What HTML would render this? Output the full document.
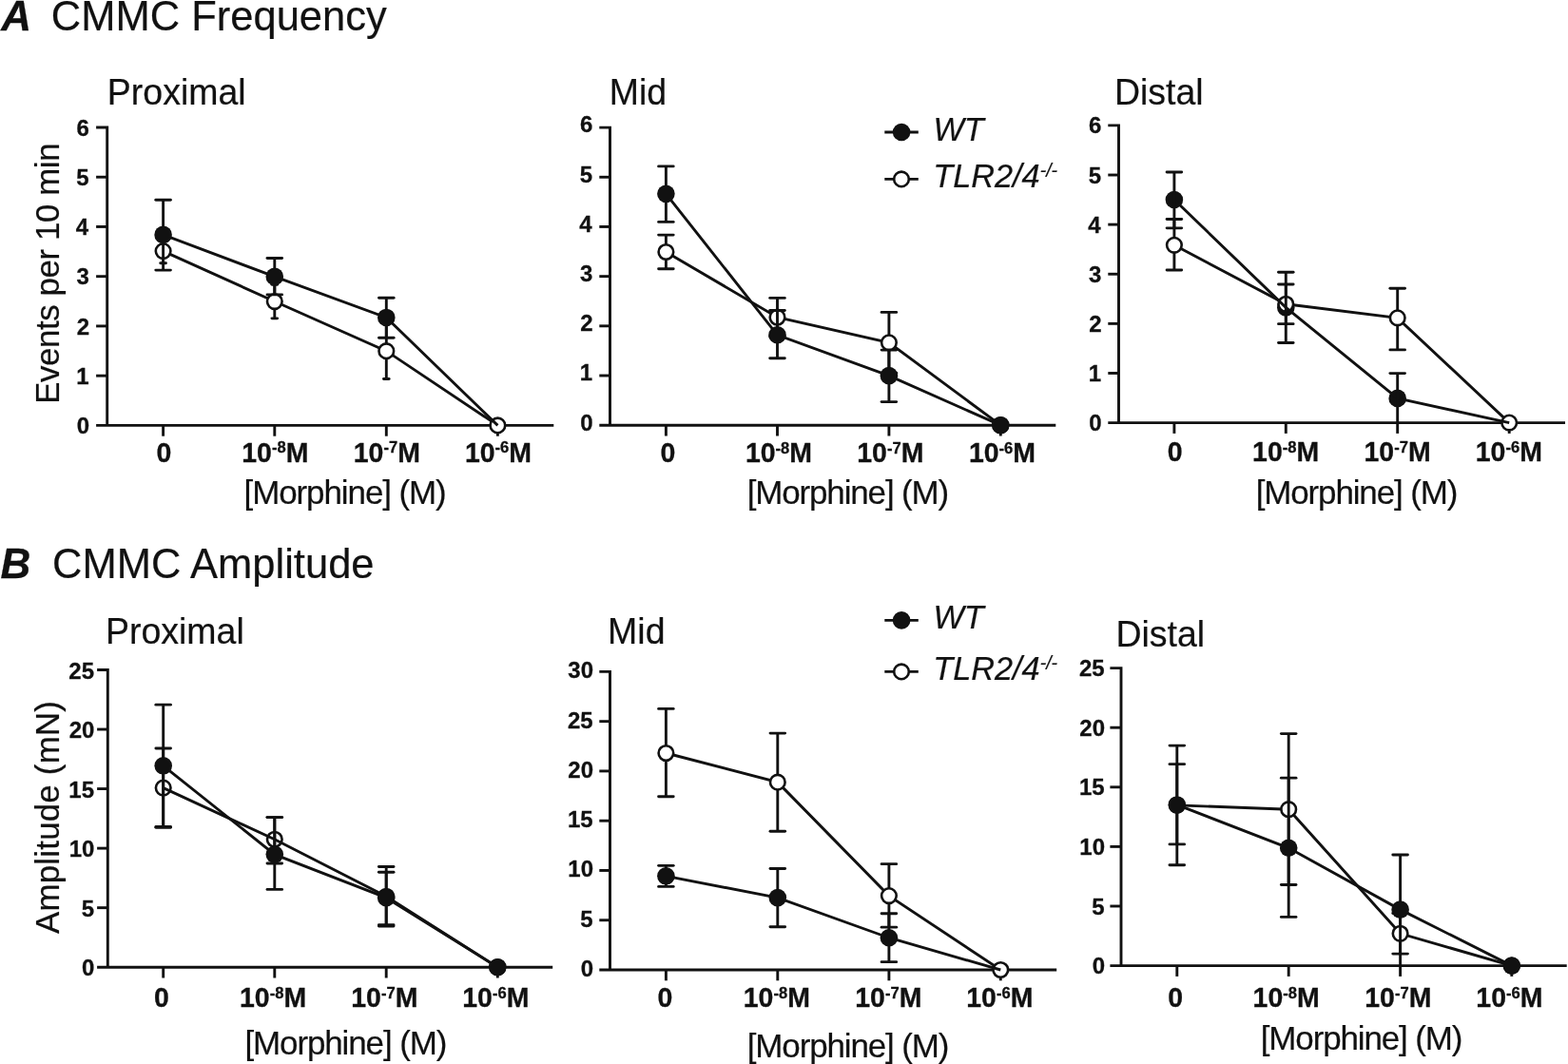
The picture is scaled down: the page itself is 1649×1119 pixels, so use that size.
<!DOCTYPE html>
<html><head><meta charset="utf-8"><style>
html,body{margin:0;padding:0;background:#fff;}
svg{display:block;}
</style></head><body>
<svg width="1649" height="1119" viewBox="0 0 1649 1119">
<style>text{stroke:#111111;stroke-width:0.2px;} text[font-weight="bold"]{stroke-width:0.3px;}</style>
<rect width="1649" height="1119" fill="#fff"/>
<g fill="#111111">
<!-- panel 0 -->
<path d="M101.10,134.00 H112.70 V447.40" fill="none" stroke="#111111" stroke-width="2.9" stroke-linecap="butt" stroke-linejoin="miter"/>
<path d="M101.10,447.40 H582.30" fill="none" stroke="#111111" stroke-width="2.9"/>
<text x="93.99" y="455.98" font-family="'Liberation Sans', Arial, Helvetica, sans-serif" font-weight="bold" font-style="normal" font-size="24.0" text-anchor="end">0</text>
<line x1="101.10" y1="395.17" x2="112.70" y2="395.17" stroke="#111111" stroke-width="2.9" stroke-linecap="butt"/>
<text x="93.63" y="403.75" font-family="'Liberation Sans', Arial, Helvetica, sans-serif" font-weight="bold" font-style="normal" font-size="24.0" text-anchor="end">1</text>
<line x1="101.10" y1="342.93" x2="112.70" y2="342.93" stroke="#111111" stroke-width="2.9" stroke-linecap="butt"/>
<text x="93.99" y="351.51" font-family="'Liberation Sans', Arial, Helvetica, sans-serif" font-weight="bold" font-style="normal" font-size="24.0" text-anchor="end">2</text>
<line x1="101.10" y1="290.70" x2="112.70" y2="290.70" stroke="#111111" stroke-width="2.9" stroke-linecap="butt"/>
<text x="93.87" y="299.28" font-family="'Liberation Sans', Arial, Helvetica, sans-serif" font-weight="bold" font-style="normal" font-size="24.0" text-anchor="end">3</text>
<line x1="101.10" y1="238.47" x2="112.70" y2="238.47" stroke="#111111" stroke-width="2.9" stroke-linecap="butt"/>
<text x="93.15" y="247.05" font-family="'Liberation Sans', Arial, Helvetica, sans-serif" font-weight="bold" font-style="normal" font-size="24.0" text-anchor="end">4</text>
<line x1="101.10" y1="186.23" x2="112.70" y2="186.23" stroke="#111111" stroke-width="2.9" stroke-linecap="butt"/>
<text x="93.63" y="194.81" font-family="'Liberation Sans', Arial, Helvetica, sans-serif" font-weight="bold" font-style="normal" font-size="24.0" text-anchor="end">5</text>
<text x="93.87" y="142.58" font-family="'Liberation Sans', Arial, Helvetica, sans-serif" font-weight="bold" font-style="normal" font-size="24.0" text-anchor="end">6</text>
<line x1="171.60" y1="447.40" x2="171.60" y2="458.70" stroke="#111111" stroke-width="2.9" stroke-linecap="butt"/>
<text x="172.50" y="485.70" font-family="'Liberation Sans', Arial, Helvetica, sans-serif" font-weight="bold" font-style="normal" font-size="28.5" text-anchor="middle" transform="matrix(1,0,0,1.045,0,-21.856)">0</text>
<line x1="288.80" y1="447.40" x2="288.80" y2="458.70" stroke="#111111" stroke-width="2.9" stroke-linecap="butt"/>
<text x="289.30" y="485.70" font-family="'Liberation Sans', Arial, Helvetica, sans-serif" font-weight="bold" font-size="28.5" text-anchor="middle" transform="matrix(1,0,0,1.045,0,-21.856)">10<tspan font-size="16.6" dy="-9.1">-8</tspan><tspan dy="9.1">M</tspan></text>
<line x1="406.30" y1="447.40" x2="406.30" y2="458.70" stroke="#111111" stroke-width="2.9" stroke-linecap="butt"/>
<text x="406.80" y="485.70" font-family="'Liberation Sans', Arial, Helvetica, sans-serif" font-weight="bold" font-size="28.5" text-anchor="middle" transform="matrix(1,0,0,1.045,0,-21.856)">10<tspan font-size="16.6" dy="-9.1">-7</tspan><tspan dy="9.1">M</tspan></text>
<line x1="523.40" y1="447.40" x2="523.40" y2="458.70" stroke="#111111" stroke-width="2.9" stroke-linecap="butt"/>
<text x="524.00" y="485.70" font-family="'Liberation Sans', Arial, Helvetica, sans-serif" font-weight="bold" font-size="28.5" text-anchor="middle" transform="matrix(1,0,0,1.045,0,-21.856)">10<tspan font-size="16.6" dy="-9.1">-6</tspan><tspan dy="9.1">M</tspan></text>
<text x="256.55" y="530.30" font-family="'Liberation Sans', Arial, Helvetica, sans-serif" font-weight="normal" font-style="normal" font-size="35.0" textLength="213.21" lengthAdjust="spacing" transform="matrix(1,0,0,1.027,0,-14.318)">[Morphine] (M)</text>
<polyline points="171.60,264.06 288.80,317.03 406.30,369.15 523.40,447.40" fill="none" stroke="#111111" stroke-width="2.9" stroke-linejoin="miter"/>
<line x1="171.60" y1="276.70" x2="171.60" y2="251.42" stroke="#111111" stroke-width="2.9" stroke-linecap="butt"/>
<line x1="168.75" y1="276.70" x2="174.45" y2="276.70" stroke="#111111" stroke-width="2.9" stroke-linecap="round"/>
<line x1="168.75" y1="251.42" x2="174.45" y2="251.42" stroke="#111111" stroke-width="2.9" stroke-linecap="round"/>
<line x1="288.80" y1="334.84" x2="288.80" y2="299.21" stroke="#111111" stroke-width="2.9" stroke-linecap="butt"/>
<line x1="285.95" y1="334.84" x2="291.65" y2="334.84" stroke="#111111" stroke-width="2.9" stroke-linecap="round"/>
<line x1="285.95" y1="299.21" x2="291.65" y2="299.21" stroke="#111111" stroke-width="2.9" stroke-linecap="round"/>
<line x1="406.30" y1="398.46" x2="406.30" y2="339.85" stroke="#111111" stroke-width="2.9" stroke-linecap="butt"/>
<line x1="403.45" y1="398.46" x2="409.15" y2="398.46" stroke="#111111" stroke-width="2.9" stroke-linecap="round"/>
<line x1="403.45" y1="339.85" x2="409.15" y2="339.85" stroke="#111111" stroke-width="2.9" stroke-linecap="round"/>
<circle cx="171.60" cy="264.06" r="7.8" fill="#fff" stroke="#111111" stroke-width="2.6"/>
<circle cx="288.80" cy="317.03" r="7.8" fill="#fff" stroke="#111111" stroke-width="2.6"/>
<circle cx="406.30" cy="369.15" r="7.8" fill="#fff" stroke="#111111" stroke-width="2.6"/>
<circle cx="523.40" cy="447.40" r="7.8" fill="#fff" stroke="#111111" stroke-width="2.6"/>
<polyline points="171.60,246.88 288.80,290.91 406.30,333.95 523.40,447.40" fill="none" stroke="#111111" stroke-width="2.9" stroke-linejoin="miter"/>
<line x1="171.60" y1="284.12" x2="171.60" y2="210.26" stroke="#111111" stroke-width="2.9" stroke-linecap="butt"/>
<line x1="163.80" y1="284.12" x2="179.40" y2="284.12" stroke="#111111" stroke-width="2.9" stroke-linecap="round"/>
<line x1="163.80" y1="210.26" x2="179.40" y2="210.26" stroke="#111111" stroke-width="2.9" stroke-linecap="round"/>
<line x1="288.80" y1="309.92" x2="288.80" y2="271.48" stroke="#111111" stroke-width="2.9" stroke-linecap="butt"/>
<line x1="281.00" y1="309.92" x2="296.60" y2="309.92" stroke="#111111" stroke-width="2.9" stroke-linecap="round"/>
<line x1="281.00" y1="271.48" x2="296.60" y2="271.48" stroke="#111111" stroke-width="2.9" stroke-linecap="round"/>
<line x1="406.30" y1="355.26" x2="406.30" y2="313.21" stroke="#111111" stroke-width="2.9" stroke-linecap="butt"/>
<line x1="398.50" y1="355.26" x2="414.10" y2="355.26" stroke="#111111" stroke-width="2.9" stroke-linecap="round"/>
<line x1="398.50" y1="313.21" x2="414.10" y2="313.21" stroke="#111111" stroke-width="2.9" stroke-linecap="round"/>
<circle cx="171.60" cy="246.88" r="9.3" fill="#111111"/>
<circle cx="288.80" cy="290.91" r="9.3" fill="#111111"/>
<circle cx="406.30" cy="333.95" r="9.3" fill="#111111"/>
<!-- panel 1 -->
<path d="M630.30,134.10 H641.50 V447.20" fill="none" stroke="#111111" stroke-width="2.9" stroke-linecap="butt" stroke-linejoin="miter"/>
<path d="M630.30,447.20 H1110.30" fill="none" stroke="#111111" stroke-width="2.9"/>
<text x="623.49" y="452.58" font-family="'Liberation Sans', Arial, Helvetica, sans-serif" font-weight="bold" font-style="normal" font-size="24.0" text-anchor="end">0</text>
<line x1="630.30" y1="395.02" x2="641.50" y2="395.02" stroke="#111111" stroke-width="2.9" stroke-linecap="butt"/>
<text x="623.13" y="400.40" font-family="'Liberation Sans', Arial, Helvetica, sans-serif" font-weight="bold" font-style="normal" font-size="24.0" text-anchor="end">1</text>
<line x1="630.30" y1="342.83" x2="641.50" y2="342.83" stroke="#111111" stroke-width="2.9" stroke-linecap="butt"/>
<text x="623.49" y="348.21" font-family="'Liberation Sans', Arial, Helvetica, sans-serif" font-weight="bold" font-style="normal" font-size="24.0" text-anchor="end">2</text>
<line x1="630.30" y1="290.65" x2="641.50" y2="290.65" stroke="#111111" stroke-width="2.9" stroke-linecap="butt"/>
<text x="623.37" y="296.03" font-family="'Liberation Sans', Arial, Helvetica, sans-serif" font-weight="bold" font-style="normal" font-size="24.0" text-anchor="end">3</text>
<line x1="630.30" y1="238.47" x2="641.50" y2="238.47" stroke="#111111" stroke-width="2.9" stroke-linecap="butt"/>
<text x="622.65" y="243.85" font-family="'Liberation Sans', Arial, Helvetica, sans-serif" font-weight="bold" font-style="normal" font-size="24.0" text-anchor="end">4</text>
<line x1="630.30" y1="186.28" x2="641.50" y2="186.28" stroke="#111111" stroke-width="2.9" stroke-linecap="butt"/>
<text x="623.13" y="191.66" font-family="'Liberation Sans', Arial, Helvetica, sans-serif" font-weight="bold" font-style="normal" font-size="24.0" text-anchor="end">5</text>
<text x="623.37" y="139.48" font-family="'Liberation Sans', Arial, Helvetica, sans-serif" font-weight="bold" font-style="normal" font-size="24.0" text-anchor="end">6</text>
<line x1="700.40" y1="447.20" x2="700.40" y2="458.50" stroke="#111111" stroke-width="2.9" stroke-linecap="butt"/>
<text x="702.30" y="486.10" font-family="'Liberation Sans', Arial, Helvetica, sans-serif" font-weight="bold" font-style="normal" font-size="28.5" text-anchor="middle" transform="matrix(1,0,0,1.045,0,-21.874)">0</text>
<line x1="817.50" y1="447.20" x2="817.50" y2="458.50" stroke="#111111" stroke-width="2.9" stroke-linecap="butt"/>
<text x="819.00" y="486.10" font-family="'Liberation Sans', Arial, Helvetica, sans-serif" font-weight="bold" font-size="28.5" text-anchor="middle" transform="matrix(1,0,0,1.045,0,-21.874)">10<tspan font-size="16.6" dy="-9.1">-8</tspan><tspan dy="9.1">M</tspan></text>
<line x1="934.90" y1="447.20" x2="934.90" y2="458.50" stroke="#111111" stroke-width="2.9" stroke-linecap="butt"/>
<text x="936.30" y="486.10" font-family="'Liberation Sans', Arial, Helvetica, sans-serif" font-weight="bold" font-size="28.5" text-anchor="middle" transform="matrix(1,0,0,1.045,0,-21.874)">10<tspan font-size="16.6" dy="-9.1">-7</tspan><tspan dy="9.1">M</tspan></text>
<line x1="1052.30" y1="447.20" x2="1052.30" y2="458.50" stroke="#111111" stroke-width="2.9" stroke-linecap="butt"/>
<text x="1054.00" y="486.10" font-family="'Liberation Sans', Arial, Helvetica, sans-serif" font-weight="bold" font-size="28.5" text-anchor="middle" transform="matrix(1,0,0,1.045,0,-21.874)">10<tspan font-size="16.6" dy="-9.1">-6</tspan><tspan dy="9.1">M</tspan></text>
<text x="785.75" y="530.00" font-family="'Liberation Sans', Arial, Helvetica, sans-serif" font-weight="normal" font-style="normal" font-size="35.0" textLength="212.41" lengthAdjust="spacing" transform="matrix(1,0,0,1.027,0,-14.310)">[Morphine] (M)</text>
<polyline points="700.40,264.98 817.50,333.70 934.90,360.31 1052.30,447.20" fill="none" stroke="#111111" stroke-width="2.9" stroke-linejoin="miter"/>
<line x1="700.40" y1="282.77" x2="700.40" y2="247.08" stroke="#111111" stroke-width="2.9" stroke-linecap="butt"/>
<line x1="692.60" y1="282.77" x2="708.20" y2="282.77" stroke="#111111" stroke-width="2.9" stroke-linecap="round"/>
<line x1="692.60" y1="247.08" x2="708.20" y2="247.08" stroke="#111111" stroke-width="2.9" stroke-linecap="round"/>
<line x1="817.50" y1="354.00" x2="817.50" y2="313.40" stroke="#111111" stroke-width="2.9" stroke-linecap="butt"/>
<line x1="809.70" y1="354.00" x2="825.30" y2="354.00" stroke="#111111" stroke-width="2.9" stroke-linecap="round"/>
<line x1="809.70" y1="313.40" x2="825.30" y2="313.40" stroke="#111111" stroke-width="2.9" stroke-linecap="round"/>
<line x1="934.90" y1="392.25" x2="934.90" y2="328.38" stroke="#111111" stroke-width="2.9" stroke-linecap="butt"/>
<line x1="927.10" y1="392.25" x2="942.70" y2="392.25" stroke="#111111" stroke-width="2.9" stroke-linecap="round"/>
<line x1="927.10" y1="328.38" x2="942.70" y2="328.38" stroke="#111111" stroke-width="2.9" stroke-linecap="round"/>
<circle cx="700.40" cy="264.98" r="7.8" fill="#fff" stroke="#111111" stroke-width="2.6"/>
<circle cx="817.50" cy="333.70" r="7.8" fill="#fff" stroke="#111111" stroke-width="2.6"/>
<circle cx="934.90" cy="360.31" r="7.8" fill="#fff" stroke="#111111" stroke-width="2.6"/>
<circle cx="1052.30" cy="447.20" r="7.8" fill="#fff" stroke="#111111" stroke-width="2.6"/>
<polyline points="700.40,203.87 817.50,352.28 934.90,395.17 1052.30,447.20" fill="none" stroke="#111111" stroke-width="2.9" stroke-linejoin="miter"/>
<line x1="700.40" y1="233.40" x2="700.40" y2="174.91" stroke="#111111" stroke-width="2.9" stroke-linecap="butt"/>
<line x1="692.60" y1="233.40" x2="708.20" y2="233.40" stroke="#111111" stroke-width="2.9" stroke-linecap="round"/>
<line x1="692.60" y1="174.91" x2="708.20" y2="174.91" stroke="#111111" stroke-width="2.9" stroke-linecap="round"/>
<line x1="817.50" y1="376.70" x2="817.50" y2="326.50" stroke="#111111" stroke-width="2.9" stroke-linecap="butt"/>
<line x1="809.70" y1="376.70" x2="825.30" y2="376.70" stroke="#111111" stroke-width="2.9" stroke-linecap="round"/>
<line x1="809.70" y1="326.50" x2="825.30" y2="326.50" stroke="#111111" stroke-width="2.9" stroke-linecap="round"/>
<line x1="934.90" y1="422.62" x2="934.90" y2="368.09" stroke="#111111" stroke-width="2.9" stroke-linecap="butt"/>
<line x1="927.10" y1="422.62" x2="942.70" y2="422.62" stroke="#111111" stroke-width="2.9" stroke-linecap="round"/>
<line x1="927.10" y1="368.09" x2="942.70" y2="368.09" stroke="#111111" stroke-width="2.9" stroke-linecap="round"/>
<circle cx="700.40" cy="203.87" r="9.3" fill="#111111"/>
<circle cx="817.50" cy="352.28" r="9.3" fill="#111111"/>
<circle cx="934.90" cy="395.17" r="9.3" fill="#111111"/>
<circle cx="1052.30" cy="447.20" r="9.3" fill="#111111"/>
<!-- panel 2 -->
<path d="M1165.30,131.90 H1176.50 V444.60" fill="none" stroke="#111111" stroke-width="2.9" stroke-linecap="butt" stroke-linejoin="miter"/>
<path d="M1165.30,444.60 H1646.00" fill="none" stroke="#111111" stroke-width="2.9"/>
<text x="1158.49" y="453.18" font-family="'Liberation Sans', Arial, Helvetica, sans-serif" font-weight="bold" font-style="normal" font-size="24.0" text-anchor="end">0</text>
<line x1="1165.30" y1="392.48" x2="1176.50" y2="392.48" stroke="#111111" stroke-width="2.9" stroke-linecap="butt"/>
<text x="1158.13" y="401.06" font-family="'Liberation Sans', Arial, Helvetica, sans-serif" font-weight="bold" font-style="normal" font-size="24.0" text-anchor="end">1</text>
<line x1="1165.30" y1="340.37" x2="1176.50" y2="340.37" stroke="#111111" stroke-width="2.9" stroke-linecap="butt"/>
<text x="1158.49" y="348.95" font-family="'Liberation Sans', Arial, Helvetica, sans-serif" font-weight="bold" font-style="normal" font-size="24.0" text-anchor="end">2</text>
<line x1="1165.30" y1="288.25" x2="1176.50" y2="288.25" stroke="#111111" stroke-width="2.9" stroke-linecap="butt"/>
<text x="1158.37" y="296.83" font-family="'Liberation Sans', Arial, Helvetica, sans-serif" font-weight="bold" font-style="normal" font-size="24.0" text-anchor="end">3</text>
<line x1="1165.30" y1="236.13" x2="1176.50" y2="236.13" stroke="#111111" stroke-width="2.9" stroke-linecap="butt"/>
<text x="1157.65" y="244.71" font-family="'Liberation Sans', Arial, Helvetica, sans-serif" font-weight="bold" font-style="normal" font-size="24.0" text-anchor="end">4</text>
<line x1="1165.30" y1="184.02" x2="1176.50" y2="184.02" stroke="#111111" stroke-width="2.9" stroke-linecap="butt"/>
<text x="1158.13" y="192.60" font-family="'Liberation Sans', Arial, Helvetica, sans-serif" font-weight="bold" font-style="normal" font-size="24.0" text-anchor="end">5</text>
<text x="1158.37" y="140.48" font-family="'Liberation Sans', Arial, Helvetica, sans-serif" font-weight="bold" font-style="normal" font-size="24.0" text-anchor="end">6</text>
<line x1="1234.90" y1="444.60" x2="1234.90" y2="455.90" stroke="#111111" stroke-width="2.9" stroke-linecap="butt"/>
<text x="1235.60" y="485.10" font-family="'Liberation Sans', Arial, Helvetica, sans-serif" font-weight="bold" font-style="normal" font-size="28.5" text-anchor="middle" transform="matrix(1,0,0,1.045,0,-21.829)">0</text>
<line x1="1352.30" y1="444.60" x2="1352.30" y2="455.90" stroke="#111111" stroke-width="2.9" stroke-linecap="butt"/>
<text x="1352.20" y="485.10" font-family="'Liberation Sans', Arial, Helvetica, sans-serif" font-weight="bold" font-size="28.5" text-anchor="middle" transform="matrix(1,0,0,1.045,0,-21.829)">10<tspan font-size="16.6" dy="-9.1">-8</tspan><tspan dy="9.1">M</tspan></text>
<line x1="1469.70" y1="444.60" x2="1469.70" y2="455.90" stroke="#111111" stroke-width="2.9" stroke-linecap="butt"/>
<text x="1469.60" y="485.10" font-family="'Liberation Sans', Arial, Helvetica, sans-serif" font-weight="bold" font-size="28.5" text-anchor="middle" transform="matrix(1,0,0,1.045,0,-21.829)">10<tspan font-size="16.6" dy="-9.1">-7</tspan><tspan dy="9.1">M</tspan></text>
<line x1="1587.20" y1="444.60" x2="1587.20" y2="455.90" stroke="#111111" stroke-width="2.9" stroke-linecap="butt"/>
<text x="1586.80" y="485.10" font-family="'Liberation Sans', Arial, Helvetica, sans-serif" font-weight="bold" font-size="28.5" text-anchor="middle" transform="matrix(1,0,0,1.045,0,-21.829)">10<tspan font-size="16.6" dy="-9.1">-6</tspan><tspan dy="9.1">M</tspan></text>
<text x="1320.65" y="530.00" font-family="'Liberation Sans', Arial, Helvetica, sans-serif" font-weight="normal" font-style="normal" font-size="35.0" textLength="212.71" lengthAdjust="spacing" transform="matrix(1,0,0,1.027,0,-14.310)">[Morphine] (M)</text>
<circle cx="1234.90" cy="210.02" r="9.3" fill="#111111"/>
<circle cx="1352.30" cy="323.38" r="9.3" fill="#111111"/>
<circle cx="1469.70" cy="418.91" r="9.3" fill="#111111"/>
<polyline points="1234.90,257.81 1352.30,319.78 1469.70,334.32 1587.20,444.60" fill="none" stroke="#111111" stroke-width="2.9" stroke-linejoin="miter"/>
<line x1="1234.90" y1="284.03" x2="1234.90" y2="230.50" stroke="#111111" stroke-width="2.9" stroke-linecap="butt"/>
<line x1="1227.10" y1="284.03" x2="1242.70" y2="284.03" stroke="#111111" stroke-width="2.9" stroke-linecap="round"/>
<line x1="1227.10" y1="230.50" x2="1242.70" y2="230.50" stroke="#111111" stroke-width="2.9" stroke-linecap="round"/>
<line x1="1352.30" y1="340.63" x2="1352.30" y2="298.99" stroke="#111111" stroke-width="2.9" stroke-linecap="butt"/>
<line x1="1344.50" y1="340.63" x2="1360.10" y2="340.63" stroke="#111111" stroke-width="2.9" stroke-linecap="round"/>
<line x1="1344.50" y1="298.99" x2="1360.10" y2="298.99" stroke="#111111" stroke-width="2.9" stroke-linecap="round"/>
<line x1="1469.70" y1="367.88" x2="1469.70" y2="303.31" stroke="#111111" stroke-width="2.9" stroke-linecap="butt"/>
<line x1="1461.90" y1="367.88" x2="1477.50" y2="367.88" stroke="#111111" stroke-width="2.9" stroke-linecap="round"/>
<line x1="1461.90" y1="303.31" x2="1477.50" y2="303.31" stroke="#111111" stroke-width="2.9" stroke-linecap="round"/>
<circle cx="1234.90" cy="257.81" r="7.8" fill="#fff" stroke="#111111" stroke-width="2.6"/>
<circle cx="1352.30" cy="319.78" r="7.8" fill="#fff" stroke="#111111" stroke-width="2.6"/>
<circle cx="1469.70" cy="334.32" r="7.8" fill="#fff" stroke="#111111" stroke-width="2.6"/>
<circle cx="1587.20" cy="444.60" r="7.8" fill="#fff" stroke="#111111" stroke-width="2.6"/>
<polyline points="1234.90,210.02 1352.30,323.38 1469.70,418.91 1587.20,444.60" fill="none" stroke="#111111" stroke-width="2.9" stroke-linejoin="miter"/>
<line x1="1234.90" y1="239.83" x2="1234.90" y2="180.99" stroke="#111111" stroke-width="2.9" stroke-linecap="butt"/>
<line x1="1227.10" y1="239.83" x2="1242.70" y2="239.83" stroke="#111111" stroke-width="2.9" stroke-linecap="round"/>
<line x1="1227.10" y1="180.99" x2="1242.70" y2="180.99" stroke="#111111" stroke-width="2.9" stroke-linecap="round"/>
<line x1="1352.30" y1="360.54" x2="1352.30" y2="286.22" stroke="#111111" stroke-width="2.9" stroke-linecap="butt"/>
<line x1="1344.50" y1="360.54" x2="1360.10" y2="360.54" stroke="#111111" stroke-width="2.9" stroke-linecap="round"/>
<line x1="1344.50" y1="286.22" x2="1360.10" y2="286.22" stroke="#111111" stroke-width="2.9" stroke-linecap="round"/>
<line x1="1469.70" y1="444.60" x2="1469.70" y2="392.59" stroke="#111111" stroke-width="2.9" stroke-linecap="butt"/>
<line x1="1461.90" y1="392.59" x2="1477.50" y2="392.59" stroke="#111111" stroke-width="2.9" stroke-linecap="round"/>
<!-- panel 3 -->
<path d="M102.10,704.50 H113.30 V1017.20" fill="none" stroke="#111111" stroke-width="2.9" stroke-linecap="butt" stroke-linejoin="miter"/>
<path d="M102.10,1017.20 H581.20" fill="none" stroke="#111111" stroke-width="2.9"/>
<text x="99.39" y="1026.48" font-family="'Liberation Sans', Arial, Helvetica, sans-serif" font-weight="bold" font-style="normal" font-size="24.0" text-anchor="end">0</text>
<line x1="102.10" y1="954.66" x2="113.30" y2="954.66" stroke="#111111" stroke-width="2.9" stroke-linecap="butt"/>
<text x="99.03" y="963.94" font-family="'Liberation Sans', Arial, Helvetica, sans-serif" font-weight="bold" font-style="normal" font-size="24.0" text-anchor="end">5</text>
<line x1="102.10" y1="892.12" x2="113.30" y2="892.12" stroke="#111111" stroke-width="2.9" stroke-linecap="butt"/>
<text x="99.42" y="901.40" font-family="'Liberation Sans', Arial, Helvetica, sans-serif" font-weight="bold" font-style="normal" font-size="24.0" text-anchor="end">10</text>
<line x1="102.10" y1="829.58" x2="113.30" y2="829.58" stroke="#111111" stroke-width="2.9" stroke-linecap="butt"/>
<text x="99.06" y="838.86" font-family="'Liberation Sans', Arial, Helvetica, sans-serif" font-weight="bold" font-style="normal" font-size="24.0" text-anchor="end">15</text>
<line x1="102.10" y1="767.04" x2="113.30" y2="767.04" stroke="#111111" stroke-width="2.9" stroke-linecap="butt"/>
<text x="99.42" y="776.32" font-family="'Liberation Sans', Arial, Helvetica, sans-serif" font-weight="bold" font-style="normal" font-size="24.0" text-anchor="end">20</text>
<text x="99.06" y="713.78" font-family="'Liberation Sans', Arial, Helvetica, sans-serif" font-weight="bold" font-style="normal" font-size="24.0" text-anchor="end">25</text>
<line x1="171.70" y1="1017.20" x2="171.70" y2="1028.50" stroke="#111111" stroke-width="2.9" stroke-linecap="butt"/>
<text x="169.90" y="1059.40" font-family="'Liberation Sans', Arial, Helvetica, sans-serif" font-weight="bold" font-style="normal" font-size="28.5" text-anchor="middle" transform="matrix(1,0,0,1.045,0,-47.673)">0</text>
<line x1="288.80" y1="1017.20" x2="288.80" y2="1028.50" stroke="#111111" stroke-width="2.9" stroke-linecap="butt"/>
<text x="287.10" y="1059.40" font-family="'Liberation Sans', Arial, Helvetica, sans-serif" font-weight="bold" font-size="28.5" text-anchor="middle" transform="matrix(1,0,0,1.045,0,-47.673)">10<tspan font-size="16.6" dy="-9.1">-8</tspan><tspan dy="9.1">M</tspan></text>
<line x1="406.20" y1="1017.20" x2="406.20" y2="1028.50" stroke="#111111" stroke-width="2.9" stroke-linecap="butt"/>
<text x="404.30" y="1059.40" font-family="'Liberation Sans', Arial, Helvetica, sans-serif" font-weight="bold" font-size="28.5" text-anchor="middle" transform="matrix(1,0,0,1.045,0,-47.673)">10<tspan font-size="16.6" dy="-9.1">-7</tspan><tspan dy="9.1">M</tspan></text>
<line x1="523.30" y1="1017.20" x2="523.30" y2="1028.50" stroke="#111111" stroke-width="2.9" stroke-linecap="butt"/>
<text x="521.30" y="1059.40" font-family="'Liberation Sans', Arial, Helvetica, sans-serif" font-weight="bold" font-size="28.5" text-anchor="middle" transform="matrix(1,0,0,1.045,0,-47.673)">10<tspan font-size="16.6" dy="-9.1">-6</tspan><tspan dy="9.1">M</tspan></text>
<text x="257.45" y="1108.80" font-family="'Liberation Sans', Arial, Helvetica, sans-serif" font-weight="normal" font-style="normal" font-size="35.0" textLength="212.91" lengthAdjust="spacing" transform="matrix(1,0,0,1.027,0,-29.938)">[Morphine] (M)</text>
<polyline points="171.70,828.58 288.80,882.74 406.20,942.78 523.30,1017.20" fill="none" stroke="#111111" stroke-width="2.9" stroke-linejoin="miter"/>
<line x1="171.70" y1="870.23" x2="171.70" y2="786.93" stroke="#111111" stroke-width="2.9" stroke-linecap="butt"/>
<line x1="163.90" y1="870.23" x2="179.50" y2="870.23" stroke="#111111" stroke-width="2.9" stroke-linecap="round"/>
<line x1="163.90" y1="786.93" x2="179.50" y2="786.93" stroke="#111111" stroke-width="2.9" stroke-linecap="round"/>
<line x1="288.80" y1="908.01" x2="288.80" y2="859.60" stroke="#111111" stroke-width="2.9" stroke-linecap="butt"/>
<line x1="281.00" y1="908.01" x2="296.60" y2="908.01" stroke="#111111" stroke-width="2.9" stroke-linecap="round"/>
<line x1="281.00" y1="859.60" x2="296.60" y2="859.60" stroke="#111111" stroke-width="2.9" stroke-linecap="round"/>
<line x1="406.20" y1="974.05" x2="406.20" y2="911.51" stroke="#111111" stroke-width="2.9" stroke-linecap="butt"/>
<line x1="398.40" y1="974.05" x2="414.00" y2="974.05" stroke="#111111" stroke-width="2.9" stroke-linecap="round"/>
<line x1="398.40" y1="911.51" x2="414.00" y2="911.51" stroke="#111111" stroke-width="2.9" stroke-linecap="round"/>
<circle cx="171.70" cy="828.58" r="7.8" fill="none" stroke="#111111" stroke-width="2.6"/>
<circle cx="288.80" cy="882.74" r="7.8" fill="none" stroke="#111111" stroke-width="2.6"/>
<circle cx="406.20" cy="942.78" r="7.8" fill="none" stroke="#111111" stroke-width="2.6"/>
<circle cx="523.30" cy="1017.20" r="7.8" fill="none" stroke="#111111" stroke-width="2.6"/>
<polyline points="171.70,805.31 288.80,898.62 406.20,944.15 523.30,1017.20" fill="none" stroke="#111111" stroke-width="2.9" stroke-linejoin="miter"/>
<line x1="171.70" y1="869.48" x2="171.70" y2="741.15" stroke="#111111" stroke-width="2.9" stroke-linecap="butt"/>
<line x1="163.90" y1="869.48" x2="179.50" y2="869.48" stroke="#111111" stroke-width="2.9" stroke-linecap="round"/>
<line x1="163.90" y1="741.15" x2="179.50" y2="741.15" stroke="#111111" stroke-width="2.9" stroke-linecap="round"/>
<line x1="288.80" y1="935.40" x2="288.80" y2="859.60" stroke="#111111" stroke-width="2.9" stroke-linecap="butt"/>
<line x1="281.00" y1="935.40" x2="296.60" y2="935.40" stroke="#111111" stroke-width="2.9" stroke-linecap="round"/>
<line x1="281.00" y1="859.60" x2="296.60" y2="859.60" stroke="#111111" stroke-width="2.9" stroke-linecap="round"/>
<line x1="406.20" y1="972.80" x2="406.20" y2="917.26" stroke="#111111" stroke-width="2.9" stroke-linecap="butt"/>
<line x1="398.40" y1="972.80" x2="414.00" y2="972.80" stroke="#111111" stroke-width="2.9" stroke-linecap="round"/>
<line x1="398.40" y1="917.26" x2="414.00" y2="917.26" stroke="#111111" stroke-width="2.9" stroke-linecap="round"/>
<circle cx="171.70" cy="805.31" r="9.3" fill="#111111"/>
<circle cx="288.80" cy="898.62" r="9.3" fill="#111111"/>
<circle cx="406.20" cy="944.15" r="9.3" fill="#111111"/>
<circle cx="523.30" cy="1017.20" r="9.3" fill="#111111"/>
<!-- panel 4 -->
<path d="M630.30,706.40 H641.50 V1020.00" fill="none" stroke="#111111" stroke-width="2.9" stroke-linecap="butt" stroke-linejoin="miter"/>
<path d="M630.30,1020.00 H1111.20" fill="none" stroke="#111111" stroke-width="2.9"/>
<text x="623.99" y="1026.88" font-family="'Liberation Sans', Arial, Helvetica, sans-serif" font-weight="bold" font-style="normal" font-size="24.0" text-anchor="end">0</text>
<line x1="630.30" y1="967.73" x2="641.50" y2="967.73" stroke="#111111" stroke-width="2.9" stroke-linecap="butt"/>
<text x="623.63" y="974.61" font-family="'Liberation Sans', Arial, Helvetica, sans-serif" font-weight="bold" font-style="normal" font-size="24.0" text-anchor="end">5</text>
<line x1="630.30" y1="915.47" x2="641.50" y2="915.47" stroke="#111111" stroke-width="2.9" stroke-linecap="butt"/>
<text x="624.02" y="922.35" font-family="'Liberation Sans', Arial, Helvetica, sans-serif" font-weight="bold" font-style="normal" font-size="24.0" text-anchor="end">10</text>
<line x1="630.30" y1="863.20" x2="641.50" y2="863.20" stroke="#111111" stroke-width="2.9" stroke-linecap="butt"/>
<text x="623.66" y="870.08" font-family="'Liberation Sans', Arial, Helvetica, sans-serif" font-weight="bold" font-style="normal" font-size="24.0" text-anchor="end">15</text>
<line x1="630.30" y1="810.93" x2="641.50" y2="810.93" stroke="#111111" stroke-width="2.9" stroke-linecap="butt"/>
<text x="624.02" y="817.81" font-family="'Liberation Sans', Arial, Helvetica, sans-serif" font-weight="bold" font-style="normal" font-size="24.0" text-anchor="end">20</text>
<line x1="630.30" y1="758.67" x2="641.50" y2="758.67" stroke="#111111" stroke-width="2.9" stroke-linecap="butt"/>
<text x="623.66" y="765.55" font-family="'Liberation Sans', Arial, Helvetica, sans-serif" font-weight="bold" font-style="normal" font-size="24.0" text-anchor="end">25</text>
<text x="624.02" y="713.28" font-family="'Liberation Sans', Arial, Helvetica, sans-serif" font-weight="bold" font-style="normal" font-size="24.0" text-anchor="end">30</text>
<line x1="700.40" y1="1020.00" x2="700.40" y2="1031.30" stroke="#111111" stroke-width="2.9" stroke-linecap="butt"/>
<text x="699.50" y="1059.10" font-family="'Liberation Sans', Arial, Helvetica, sans-serif" font-weight="bold" font-style="normal" font-size="28.5" text-anchor="middle" transform="matrix(1,0,0,1.045,0,-47.659)">0</text>
<line x1="817.80" y1="1020.00" x2="817.80" y2="1031.30" stroke="#111111" stroke-width="2.9" stroke-linecap="butt"/>
<text x="816.80" y="1059.10" font-family="'Liberation Sans', Arial, Helvetica, sans-serif" font-weight="bold" font-size="28.5" text-anchor="middle" transform="matrix(1,0,0,1.045,0,-47.659)">10<tspan font-size="16.6" dy="-9.1">-8</tspan><tspan dy="9.1">M</tspan></text>
<line x1="934.90" y1="1020.00" x2="934.90" y2="1031.30" stroke="#111111" stroke-width="2.9" stroke-linecap="butt"/>
<text x="934.30" y="1059.10" font-family="'Liberation Sans', Arial, Helvetica, sans-serif" font-weight="bold" font-size="28.5" text-anchor="middle" transform="matrix(1,0,0,1.045,0,-47.659)">10<tspan font-size="16.6" dy="-9.1">-7</tspan><tspan dy="9.1">M</tspan></text>
<line x1="1052.30" y1="1020.00" x2="1052.30" y2="1031.30" stroke="#111111" stroke-width="2.9" stroke-linecap="butt"/>
<text x="1051.30" y="1059.10" font-family="'Liberation Sans', Arial, Helvetica, sans-serif" font-weight="bold" font-size="28.5" text-anchor="middle" transform="matrix(1,0,0,1.045,0,-47.659)">10<tspan font-size="16.6" dy="-9.1">-6</tspan><tspan dy="9.1">M</tspan></text>
<text x="785.75" y="1111.70" font-family="'Liberation Sans', Arial, Helvetica, sans-serif" font-weight="normal" font-style="normal" font-size="35.0" textLength="212.71" lengthAdjust="spacing" transform="matrix(1,0,0,1.027,0,-30.016)">[Morphine] (M)</text>
<polyline points="700.40,792.01 817.80,822.64 934.90,942.12 1052.30,1020.00" fill="none" stroke="#111111" stroke-width="2.9" stroke-linejoin="miter"/>
<line x1="700.40" y1="837.80" x2="700.40" y2="745.39" stroke="#111111" stroke-width="2.9" stroke-linecap="butt"/>
<line x1="692.60" y1="837.80" x2="708.20" y2="837.80" stroke="#111111" stroke-width="2.9" stroke-linecap="round"/>
<line x1="692.60" y1="745.39" x2="708.20" y2="745.39" stroke="#111111" stroke-width="2.9" stroke-linecap="round"/>
<line x1="817.80" y1="874.18" x2="817.80" y2="771.11" stroke="#111111" stroke-width="2.9" stroke-linecap="butt"/>
<line x1="810.00" y1="874.18" x2="825.60" y2="874.18" stroke="#111111" stroke-width="2.9" stroke-linecap="round"/>
<line x1="810.00" y1="771.11" x2="825.60" y2="771.11" stroke="#111111" stroke-width="2.9" stroke-linecap="round"/>
<line x1="934.90" y1="975.16" x2="934.90" y2="908.67" stroke="#111111" stroke-width="2.9" stroke-linecap="butt"/>
<line x1="927.10" y1="975.16" x2="942.70" y2="975.16" stroke="#111111" stroke-width="2.9" stroke-linecap="round"/>
<line x1="927.10" y1="908.67" x2="942.70" y2="908.67" stroke="#111111" stroke-width="2.9" stroke-linecap="round"/>
<circle cx="700.40" cy="792.01" r="7.8" fill="#fff" stroke="#111111" stroke-width="2.6"/>
<circle cx="817.80" cy="822.64" r="7.8" fill="#fff" stroke="#111111" stroke-width="2.6"/>
<circle cx="934.90" cy="942.12" r="7.8" fill="#fff" stroke="#111111" stroke-width="2.6"/>
<circle cx="1052.30" cy="1020.00" r="7.8" fill="#fff" stroke="#111111" stroke-width="2.6"/>
<polyline points="700.40,921.32 817.80,944.11 934.90,986.24 1052.30,1020.00" fill="none" stroke="#111111" stroke-width="2.9" stroke-linejoin="miter"/>
<line x1="700.40" y1="932.40" x2="700.40" y2="910.34" stroke="#111111" stroke-width="2.9" stroke-linecap="butt"/>
<line x1="692.60" y1="932.40" x2="708.20" y2="932.40" stroke="#111111" stroke-width="2.9" stroke-linecap="round"/>
<line x1="692.60" y1="910.34" x2="708.20" y2="910.34" stroke="#111111" stroke-width="2.9" stroke-linecap="round"/>
<line x1="817.80" y1="974.74" x2="817.80" y2="913.48" stroke="#111111" stroke-width="2.9" stroke-linecap="butt"/>
<line x1="810.00" y1="974.74" x2="825.60" y2="974.74" stroke="#111111" stroke-width="2.9" stroke-linecap="round"/>
<line x1="810.00" y1="913.48" x2="825.60" y2="913.48" stroke="#111111" stroke-width="2.9" stroke-linecap="round"/>
<line x1="934.90" y1="1011.64" x2="934.90" y2="960.73" stroke="#111111" stroke-width="2.9" stroke-linecap="butt"/>
<line x1="927.10" y1="1011.64" x2="942.70" y2="1011.64" stroke="#111111" stroke-width="2.9" stroke-linecap="round"/>
<line x1="927.10" y1="960.73" x2="942.70" y2="960.73" stroke="#111111" stroke-width="2.9" stroke-linecap="round"/>
<circle cx="700.40" cy="921.32" r="9.3" fill="#111111"/>
<circle cx="817.80" cy="944.11" r="9.3" fill="#111111"/>
<circle cx="934.90" cy="986.24" r="9.3" fill="#111111"/>
<!-- panel 5 -->
<path d="M1167.40,702.60 H1179.00 V1015.60" fill="none" stroke="#111111" stroke-width="2.9" stroke-linecap="butt" stroke-linejoin="miter"/>
<path d="M1167.40,1015.60 H1647.70" fill="none" stroke="#111111" stroke-width="2.9"/>
<text x="1161.99" y="1024.18" font-family="'Liberation Sans', Arial, Helvetica, sans-serif" font-weight="bold" font-style="normal" font-size="24.0" text-anchor="end">0</text>
<line x1="1167.40" y1="953.00" x2="1179.00" y2="953.00" stroke="#111111" stroke-width="2.9" stroke-linecap="butt"/>
<text x="1161.63" y="961.58" font-family="'Liberation Sans', Arial, Helvetica, sans-serif" font-weight="bold" font-style="normal" font-size="24.0" text-anchor="end">5</text>
<line x1="1167.40" y1="890.40" x2="1179.00" y2="890.40" stroke="#111111" stroke-width="2.9" stroke-linecap="butt"/>
<text x="1162.02" y="898.98" font-family="'Liberation Sans', Arial, Helvetica, sans-serif" font-weight="bold" font-style="normal" font-size="24.0" text-anchor="end">10</text>
<line x1="1167.40" y1="827.80" x2="1179.00" y2="827.80" stroke="#111111" stroke-width="2.9" stroke-linecap="butt"/>
<text x="1161.66" y="836.38" font-family="'Liberation Sans', Arial, Helvetica, sans-serif" font-weight="bold" font-style="normal" font-size="24.0" text-anchor="end">15</text>
<line x1="1167.40" y1="765.20" x2="1179.00" y2="765.20" stroke="#111111" stroke-width="2.9" stroke-linecap="butt"/>
<text x="1162.02" y="773.78" font-family="'Liberation Sans', Arial, Helvetica, sans-serif" font-weight="bold" font-style="normal" font-size="24.0" text-anchor="end">20</text>
<text x="1161.66" y="711.18" font-family="'Liberation Sans', Arial, Helvetica, sans-serif" font-weight="bold" font-style="normal" font-size="24.0" text-anchor="end">25</text>
<line x1="1237.80" y1="1015.60" x2="1237.80" y2="1026.90" stroke="#111111" stroke-width="2.9" stroke-linecap="butt"/>
<text x="1236.20" y="1059.40" font-family="'Liberation Sans', Arial, Helvetica, sans-serif" font-weight="bold" font-style="normal" font-size="28.5" text-anchor="middle" transform="matrix(1,0,0,1.045,0,-47.673)">0</text>
<line x1="1355.20" y1="1015.60" x2="1355.20" y2="1026.90" stroke="#111111" stroke-width="2.9" stroke-linecap="butt"/>
<text x="1352.70" y="1059.40" font-family="'Liberation Sans', Arial, Helvetica, sans-serif" font-weight="bold" font-size="28.5" text-anchor="middle" transform="matrix(1,0,0,1.045,0,-47.673)">10<tspan font-size="16.6" dy="-9.1">-8</tspan><tspan dy="9.1">M</tspan></text>
<line x1="1472.60" y1="1015.60" x2="1472.60" y2="1026.90" stroke="#111111" stroke-width="2.9" stroke-linecap="butt"/>
<text x="1470.30" y="1059.40" font-family="'Liberation Sans', Arial, Helvetica, sans-serif" font-weight="bold" font-size="28.5" text-anchor="middle" transform="matrix(1,0,0,1.045,0,-47.673)">10<tspan font-size="16.6" dy="-9.1">-7</tspan><tspan dy="9.1">M</tspan></text>
<line x1="1589.80" y1="1015.60" x2="1589.80" y2="1026.90" stroke="#111111" stroke-width="2.9" stroke-linecap="butt"/>
<text x="1587.40" y="1059.40" font-family="'Liberation Sans', Arial, Helvetica, sans-serif" font-weight="bold" font-size="28.5" text-anchor="middle" transform="matrix(1,0,0,1.045,0,-47.673)">10<tspan font-size="16.6" dy="-9.1">-6</tspan><tspan dy="9.1">M</tspan></text>
<text x="1325.75" y="1103.60" font-family="'Liberation Sans', Arial, Helvetica, sans-serif" font-weight="normal" font-style="normal" font-size="35.0" textLength="212.71" lengthAdjust="spacing" transform="matrix(1,0,0,1.027,0,-29.797)">[Morphine] (M)</text>
<polyline points="1237.80,846.83 1355.20,851.21 1472.60,981.80 1589.80,1015.60" fill="none" stroke="#111111" stroke-width="2.9" stroke-linejoin="miter"/>
<line x1="1237.80" y1="909.68" x2="1237.80" y2="784.11" stroke="#111111" stroke-width="2.9" stroke-linecap="butt"/>
<line x1="1230.00" y1="909.68" x2="1245.60" y2="909.68" stroke="#111111" stroke-width="2.9" stroke-linecap="round"/>
<line x1="1230.00" y1="784.11" x2="1245.60" y2="784.11" stroke="#111111" stroke-width="2.9" stroke-linecap="round"/>
<line x1="1355.20" y1="930.46" x2="1355.20" y2="771.59" stroke="#111111" stroke-width="2.9" stroke-linecap="butt"/>
<line x1="1347.40" y1="930.46" x2="1363.00" y2="930.46" stroke="#111111" stroke-width="2.9" stroke-linecap="round"/>
<line x1="1347.40" y1="771.59" x2="1363.00" y2="771.59" stroke="#111111" stroke-width="2.9" stroke-linecap="round"/>
<line x1="1472.60" y1="1003.08" x2="1472.60" y2="960.51" stroke="#111111" stroke-width="2.9" stroke-linecap="butt"/>
<line x1="1464.80" y1="1003.08" x2="1480.40" y2="1003.08" stroke="#111111" stroke-width="2.9" stroke-linecap="round"/>
<line x1="1464.80" y1="960.51" x2="1480.40" y2="960.51" stroke="#111111" stroke-width="2.9" stroke-linecap="round"/>
<circle cx="1237.80" cy="846.83" r="7.8" fill="#fff" stroke="#111111" stroke-width="2.6"/>
<circle cx="1355.20" cy="851.21" r="7.8" fill="#fff" stroke="#111111" stroke-width="2.6"/>
<circle cx="1472.60" cy="981.80" r="7.8" fill="#fff" stroke="#111111" stroke-width="2.6"/>
<circle cx="1589.80" cy="1015.60" r="7.8" fill="#fff" stroke="#111111" stroke-width="2.6"/>
<polyline points="1237.80,846.45 1355.20,891.78 1472.60,956.63 1589.80,1015.60" fill="none" stroke="#111111" stroke-width="2.9" stroke-linejoin="miter"/>
<line x1="1237.80" y1="887.90" x2="1237.80" y2="803.64" stroke="#111111" stroke-width="2.9" stroke-linecap="butt"/>
<line x1="1230.00" y1="887.90" x2="1245.60" y2="887.90" stroke="#111111" stroke-width="2.9" stroke-linecap="round"/>
<line x1="1230.00" y1="803.64" x2="1245.60" y2="803.64" stroke="#111111" stroke-width="2.9" stroke-linecap="round"/>
<line x1="1355.20" y1="964.39" x2="1355.20" y2="818.16" stroke="#111111" stroke-width="2.9" stroke-linecap="butt"/>
<line x1="1347.40" y1="964.39" x2="1363.00" y2="964.39" stroke="#111111" stroke-width="2.9" stroke-linecap="round"/>
<line x1="1347.40" y1="818.16" x2="1363.00" y2="818.16" stroke="#111111" stroke-width="2.9" stroke-linecap="round"/>
<line x1="1472.60" y1="1015.60" x2="1472.60" y2="899.04" stroke="#111111" stroke-width="2.9" stroke-linecap="butt"/>
<line x1="1464.80" y1="899.04" x2="1480.40" y2="899.04" stroke="#111111" stroke-width="2.9" stroke-linecap="round"/>
<circle cx="1237.80" cy="846.45" r="9.3" fill="#111111"/>
<circle cx="1355.20" cy="891.78" r="9.3" fill="#111111"/>
<circle cx="1472.60" cy="956.63" r="9.3" fill="#111111"/>
<circle cx="1589.80" cy="1015.60" r="9.3" fill="#111111"/>
<text x="1.28" y="31.80" font-family="'Liberation Sans', Arial, Helvetica, sans-serif" font-weight="bold" font-style="italic" font-size="44">A</text>
<text x="53.83" y="31.70" font-family="'Liberation Sans', Arial, Helvetica, sans-serif" font-weight="normal" font-style="normal" font-size="43.5">CMMC Frequency</text>
<text x="0.42" y="607.60" font-family="'Liberation Sans', Arial, Helvetica, sans-serif" font-weight="bold" font-style="italic" font-size="44">B</text>
<text x="55.12" y="607.60" font-family="'Liberation Sans', Arial, Helvetica, sans-serif" font-weight="normal" font-style="normal" font-size="43.5">CMMC Amplitude</text>
<text x="112.80" y="109.80" font-family="'Liberation Sans', Arial, Helvetica, sans-serif" font-weight="normal" font-style="normal" font-size="37.5" transform="matrix(1,0,0,1.035,0,-3.843)">Proximal</text>
<text x="640.70" y="110.30" font-family="'Liberation Sans', Arial, Helvetica, sans-serif" font-weight="normal" font-style="normal" font-size="37.5" transform="matrix(1,0,0,1.035,0,-3.860)">Mid</text>
<text x="1171.90" y="109.80" font-family="'Liberation Sans', Arial, Helvetica, sans-serif" font-weight="normal" font-style="normal" font-size="37.5" transform="matrix(1,0,0,1.035,0,-3.843)">Distal</text>
<text x="110.90" y="677.20" font-family="'Liberation Sans', Arial, Helvetica, sans-serif" font-weight="normal" font-style="normal" font-size="37.5" transform="matrix(1,0,0,1.035,0,-23.702)">Proximal</text>
<text x="639.10" y="676.90" font-family="'Liberation Sans', Arial, Helvetica, sans-serif" font-weight="normal" font-style="normal" font-size="37.5" transform="matrix(1,0,0,1.035,0,-23.691)">Mid</text>
<text x="1173.40" y="680.00" font-family="'Liberation Sans', Arial, Helvetica, sans-serif" font-weight="normal" font-style="normal" font-size="37.5" transform="matrix(1,0,0,1.035,0,-23.800)">Distal</text>
<g transform="translate(62.20,0) rotate(-90) scale(1,1.033)"><text x="-424.78" y="0.00" font-family="'Liberation Sans', Arial, Helvetica, sans-serif" font-weight="normal" font-style="normal" font-size="34.8" textLength="274.34" lengthAdjust="spacing">Events per 10 min</text></g>
<g transform="translate(62.40,0) rotate(-90) scale(1,1.033)"><text x="-981.97" y="0.00" font-family="'Liberation Sans', Arial, Helvetica, sans-serif" font-weight="normal" font-style="normal" font-size="34.8" textLength="244.80" lengthAdjust="spacing">Amplitude (mN)</text></g>
<line x1="930.30" y1="139.00" x2="965.80" y2="139.00" stroke="#111111" stroke-width="2.9" stroke-linecap="butt"/>
<circle cx="948.10" cy="139.00" r="9.3" fill="#111111"/>
<line x1="930.30" y1="188.40" x2="965.80" y2="188.40" stroke="#111111" stroke-width="2.9" stroke-linecap="butt"/>
<circle cx="948.00" cy="188.40" r="7.8" fill="#fff" stroke="#111111" stroke-width="2.6"/>
<text x="981.38" y="148.00" font-family="'Liberation Sans', Arial, Helvetica, sans-serif" font-weight="normal" font-style="italic" font-size="34.3" transform="matrix(1,0,0,1.033,0,-4.884)">WT</text>
<text x="981.21" y="197.50" font-family="'Liberation Sans', Arial, Helvetica, sans-serif" font-style="italic" font-size="34.3" transform="matrix(1,0,0,1.033,0,-6.517)">TLR2/4<tspan font-size="19.5" dy="-11.5">-/-</tspan></text>
<line x1="930.30" y1="652.40" x2="965.80" y2="652.40" stroke="#111111" stroke-width="2.9" stroke-linecap="butt"/>
<circle cx="948.10" cy="652.40" r="9.3" fill="#111111"/>
<line x1="930.30" y1="706.40" x2="965.80" y2="706.40" stroke="#111111" stroke-width="2.9" stroke-linecap="butt"/>
<circle cx="948.00" cy="706.40" r="7.8" fill="#fff" stroke="#111111" stroke-width="2.6"/>
<text x="981.38" y="661.00" font-family="'Liberation Sans', Arial, Helvetica, sans-serif" font-weight="normal" font-style="italic" font-size="34.3" transform="matrix(1,0,0,1.033,0,-21.813)">WT</text>
<text x="981.21" y="715.40" font-family="'Liberation Sans', Arial, Helvetica, sans-serif" font-style="italic" font-size="34.3" transform="matrix(1,0,0,1.033,0,-23.608)">TLR2/4<tspan font-size="19.5" dy="-11.5">-/-</tspan></text>
</g>
</svg>
</body></html>
